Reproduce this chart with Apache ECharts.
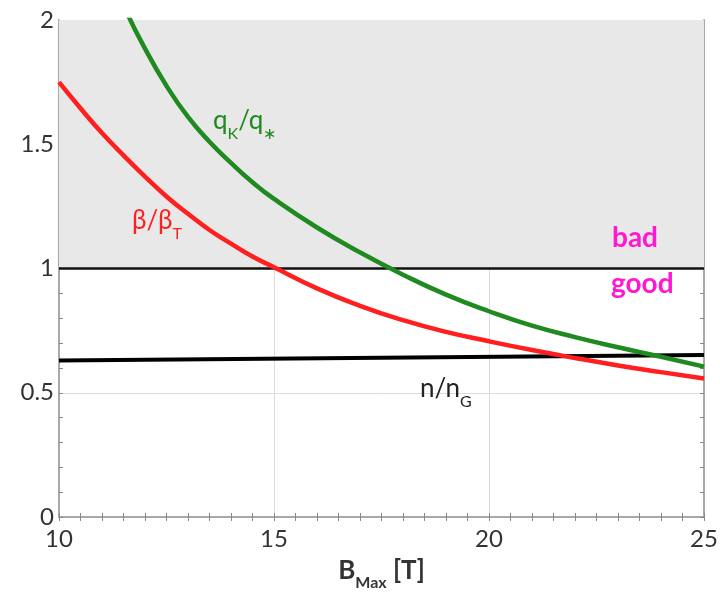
<!DOCTYPE html>
<html>
<head>
<meta charset="utf-8">
<script src="https://cdn.jsdelivr.net/npm/echarts@6/dist/echarts.min.js"></script>
<style>
  html, body { margin: 0; padding: 0; background: #fff; }
  #chart { width: 720px; height: 592px; }
</style>
</head>
<body>
<div id="chart"></div>
<script>
// Maximum field B_Max [T]; denser sampling where the curves bend most
const bMax = [10, 10.5, 11, 11.5, 12, 12.5, 13, 13.5, 14, 14.5, 15, 16, 17, 18, 19, 20, 21, 22, 23, 24, 25];
// beta / beta_T
const betaRatio = [1.75, 1.645, 1.545, 1.455, 1.37, 1.29, 1.22, 1.155, 1.10, 1.048, 1.005, 0.92, 0.85, 0.792, 0.745, 0.707, 0.672, 0.64, 0.61, 0.583, 0.557];
// q_K / q_* (runs off the top of the axis below ~11.6 T)
const qRatio = [2.8, 2.52, 2.28, 2.06, 1.885, 1.735, 1.61, 1.51, 1.425, 1.347, 1.28, 1.165, 1.065, 0.975, 0.895, 0.828, 0.77, 0.724, 0.683, 0.645, 0.605];
// n / n_G (nearly flat)
const nRatioX = [10, 25];
const nRatio = [0.63, 0.652];
// Boundary between the "bad" and "good" regions
const limitValue = 1;
const limitTop = 2;
const xTicks = [10, 15, 20, 25];
const yTicks = [0, 0.5, 1, 1.5, 2];

const FONT = 'Lato';
const RED = '#ff1f1f';
const GREEN = '#1f8a1f';
const MAGENTA = '#ff17d2';

const pair = (xs, ys) => xs.map((x, i) => [x, ys[i]]);

const chart = echarts.init(document.getElementById('chart'));

const axisCommon = {
  axisLine: { show: true, lineStyle: { color: '#a8a8a8', width: 2 } },
  axisTick: { show: true, inside: true, length: 4, lineStyle: { color: '#888', width: 1 } },
  minorTick: { show: true, length: 4, lineStyle: { color: '#888', width: 1 } }
};

// main text sits at the top of the line box, the subscript at its bottom
const labelRich = (color, size, subSize, weight, drop) => ({
  m: { fontFamily: FONT, fontSize: size, color: color, fill: color, fontWeight: weight, lineHeight: size, verticalAlign: 'top' },
  s: { fontFamily: FONT, fontSize: subSize, color: color, fill: color, fontWeight: weight, lineHeight: size + drop, verticalAlign: 'bottom' }
});

chart.setOption({
  animation: false,
  backgroundColor: '#fff',
  grid: { left: 59, right: 16, top: 20, bottom: 75, containLabel: false, outerBoundsMode: 'none' },
  xAxis: [
    Object.assign({}, axisCommon, {
      type: 'value', min: xTicks[0], max: xTicks[xTicks.length - 1], interval: 5,
      minorTick: Object.assign({}, axisCommon.minorTick, { splitNumber: 10 }),
      axisLabel: { fontFamily: FONT, fontSize: 24, color: '#333', margin: 10 },
      splitLine: { show: true, lineStyle: { color: '#dcdcdc', width: 1 } },
      name: '{m|B}{s|Max}{m| [T]}',
      nameLocation: 'middle',
      nameGap: 41,
      nameTextStyle: { rich: labelRich('#333', 26, 16, 'bold', 7) }
    }),
    Object.assign({}, axisCommon, {
      type: 'value', position: 'top', min: xTicks[0], max: xTicks[xTicks.length - 1], interval: 5,
      minorTick: Object.assign({}, axisCommon.minorTick, { splitNumber: 10 }),
      axisLabel: { show: false }, splitLine: { show: false }
    })
  ],
  yAxis: [
    Object.assign({}, axisCommon, {
      type: 'value', min: yTicks[0], max: yTicks[yTicks.length - 1], interval: 0.5,
      minorTick: Object.assign({}, axisCommon.minorTick, { splitNumber: 5 }),
      axisLabel: { fontFamily: FONT, fontSize: 24, color: '#333', margin: 5 },
      splitLine: { show: true, lineStyle: { color: '#dcdcdc', width: 1 } }
    }),
    Object.assign({}, axisCommon, {
      type: 'value', position: 'right', min: yTicks[0], max: yTicks[yTicks.length - 1], interval: 0.5,
      minorTick: Object.assign({}, axisCommon.minorTick, { splitNumber: 5 }),
      axisLabel: { show: false }, splitLine: { show: false }
    })
  ],
  series: [
    {
      // shaded "bad" region plus the limit line at 1
      type: 'line',
      data: [[xTicks[0], limitValue], [xTicks[xTicks.length - 1], limitValue]],
      symbol: 'none',
      lineStyle: { color: '#111', width: 2.5 },
      z: 3,
      markArea: {
        silent: true,
        itemStyle: { color: '#e8e8e8' },
        data: [[{ yAxis: limitValue }, { yAxis: limitTop }]]
      }
    },
    {
      name: 'n/nG',
      type: 'line',
      data: pair(nRatioX, nRatio),
      symbol: 'none',
      lineStyle: { color: '#000', width: 4 },
      z: 4
    },
    {
      name: 'beta/betaT',
      type: 'line',
      data: pair(bMax, betaRatio),
      smooth: 0.5,
      symbol: 'none',
      lineStyle: { color: RED, width: 4.5 },
      z: 5
    },
    {
      name: 'qK/q*',
      type: 'line',
      data: pair(bMax, qRatio),
      smooth: 0.5,
      symbol: 'none',
      lineStyle: { color: GREEN, width: 4.5 },
      z: 6
    }
  ],
  graphic: [
    {
      type: 'text', left: 213, top: 108, z: 100,
      style: { text: '{m|q}{s|K}{m|/q}{s|∗}', rich: labelRich(GREEN, 26, 16, 'normal', 8) }
    },
    {
      type: 'text', left: 132, top: 208, z: 100,
      style: { text: '{m|β/β}{s|T}', rich: labelRich(RED, 26, 16, 'normal', 8) }
    },
    {
      type: 'text', left: 420, top: 376, z: 100,
      style: { text: '{m|n/n}{s|G}', rich: labelRich('#222', 26, 16, 'normal', 8) }
    },
    {
      type: 'text', left: 612, top: 224, z: 100,
      style: { text: 'bad', fontFamily: FONT, fontSize: 28, fontWeight: 'bold', fill: MAGENTA }
    },
    {
      type: 'text', left: 611, top: 270, z: 100,
      style: { text: 'good', fontFamily: FONT, fontSize: 28, fontWeight: 'bold', fill: MAGENTA }
    }
  ]
});
</script>
</body>
</html>
